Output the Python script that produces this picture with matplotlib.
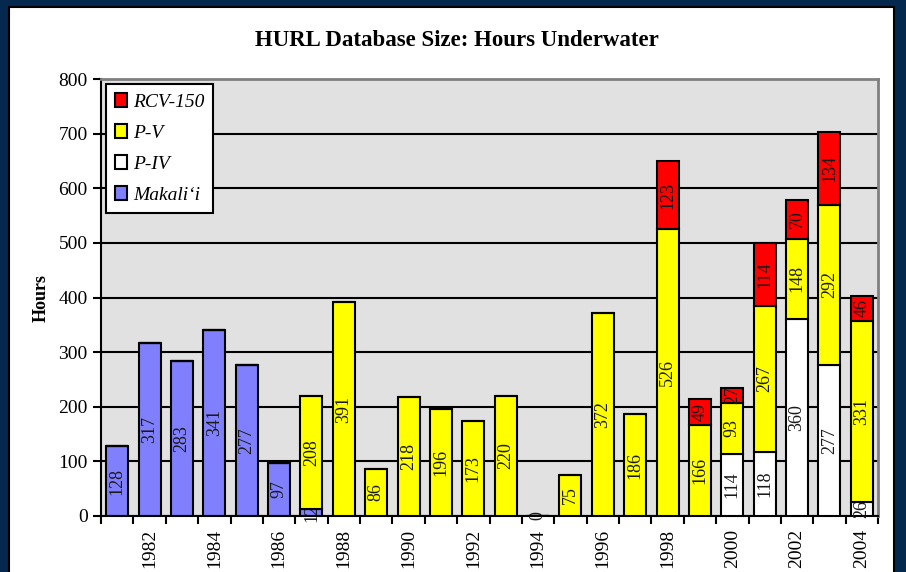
import numpy as np
import matplotlib.pyplot as plt
from matplotlib.patches import Rectangle, Patch

plt.rcParams['font.family'] = ['Liberation Serif', 'DejaVu Serif']

# years and hours per vehicle (None = no bar for that year)
years = list(range(1981, 2005))
makalii = [128, 317, 283, 341, 277, 97, 12] + [None] * 17
p_iv = [None] * 19 + [114, 118, 360, 277, 26]
p_v = [None] * 6 + [208, 391, 86, 218, 196, 173, 220, 0, 75, 372, 186, 526,
                    166, 93, 267, 148, 292, 331]
rcv150 = [None] * 17 + [123, 49, 27, 114, 70, 134, 46]

series = [("Makali\u2018i", makalii, '#8080ff'),
          ("P-IV", p_iv, '#ffffff'),
          ("P-V", p_v, '#ffff00'),
          ("RCV-150", rcv150, '#ff0000')]

fig = plt.figure(figsize=(9.06, 5.72), dpi=100)
fig.patch.set_facecolor('#05284f')
# white panel inside the navy frame
fig.patches.append(Rectangle((9 / 906, -0.01), 885 / 906, 1 - 7 / 572 + 0.01,
                             transform=fig.transFigure, facecolor='white',
                             edgecolor='black', linewidth=1.5, zorder=-5))

ax = fig.add_axes([101 / 906, 56 / 572, 777 / 906, 437 / 572])
ax.set_facecolor('#e1e1e1')

x = np.arange(len(years))
bottom = np.zeros(len(years))
z = 2
for name, vals, color in series:
    v = np.array([0 if a is None else a for a in vals], dtype=float)
    ax.bar(x, v, width=0.68, bottom=bottom, color=color, edgecolor='black',
           linewidth=1.5, zorder=z)
    for i, a in enumerate(vals):
        if a is None:
            continue
        ax.text(x[i], bottom[i] + a / 2, str(a), rotation=90, ha='center',
                va='center', fontsize=13, color='#1a1a1a', zorder=z + 0.5)
    bottom += v
    z += 1

ax.set_xlim(-0.5, len(years) - 0.5)
ax.set_ylim(0, 800)
ax.set_yticks(range(0, 801, 100))
ax.yaxis.grid(True, color='black', linewidth=1.5)
ax.set_axisbelow(True)

ax.set_xticks(x[1::2])
ax.set_xticklabels([str(y) for y in years[1::2]], rotation=90, fontsize=14)
ax.set_xticks(np.arange(-0.5, len(years), 1), minor=True)
ax.tick_params(axis='x', which='major', length=0, pad=9)
ax.tick_params(axis='x', which='minor', length=6, width=1.5, direction='out')
ax.tick_params(axis='y', length=6, width=1.5, direction='out', labelsize=14)

for s in ['left', 'bottom']:
    ax.spines[s].set_linewidth(1.5)
for s in ['top', 'right']:
    ax.spines[s].set_color('#808080')
    ax.spines[s].set_linewidth(2)

ax.set_ylabel('Hours', fontsize=13, fontweight='bold', labelpad=6)
fig.text(457 / 906, 1 - 41 / 572, 'HURL Database Size: Hours Underwater',
         ha='center', va='center', fontsize=16.5, fontweight='bold')

handles = [Patch(facecolor=c, edgecolor='black', linewidth=1.5, label=n)
           for n, _, c in series[::-1]]
leg = ax.legend(handles=handles, loc='upper left', bbox_to_anchor=(0.0, 1.0),
                prop={'style': 'italic', 'size': 14}, frameon=True, fancybox=False,
                edgecolor='black', framealpha=1, handlelength=0.65,
                handleheight=0.75, handletextpad=0.3, labelspacing=0.68,
                borderpad=0.45, borderaxespad=0.25)
leg.get_frame().set_linewidth(1.5)
leg.set_zorder(10)

plt.savefig('out.png', dpi=100, facecolor=fig.get_facecolor())
